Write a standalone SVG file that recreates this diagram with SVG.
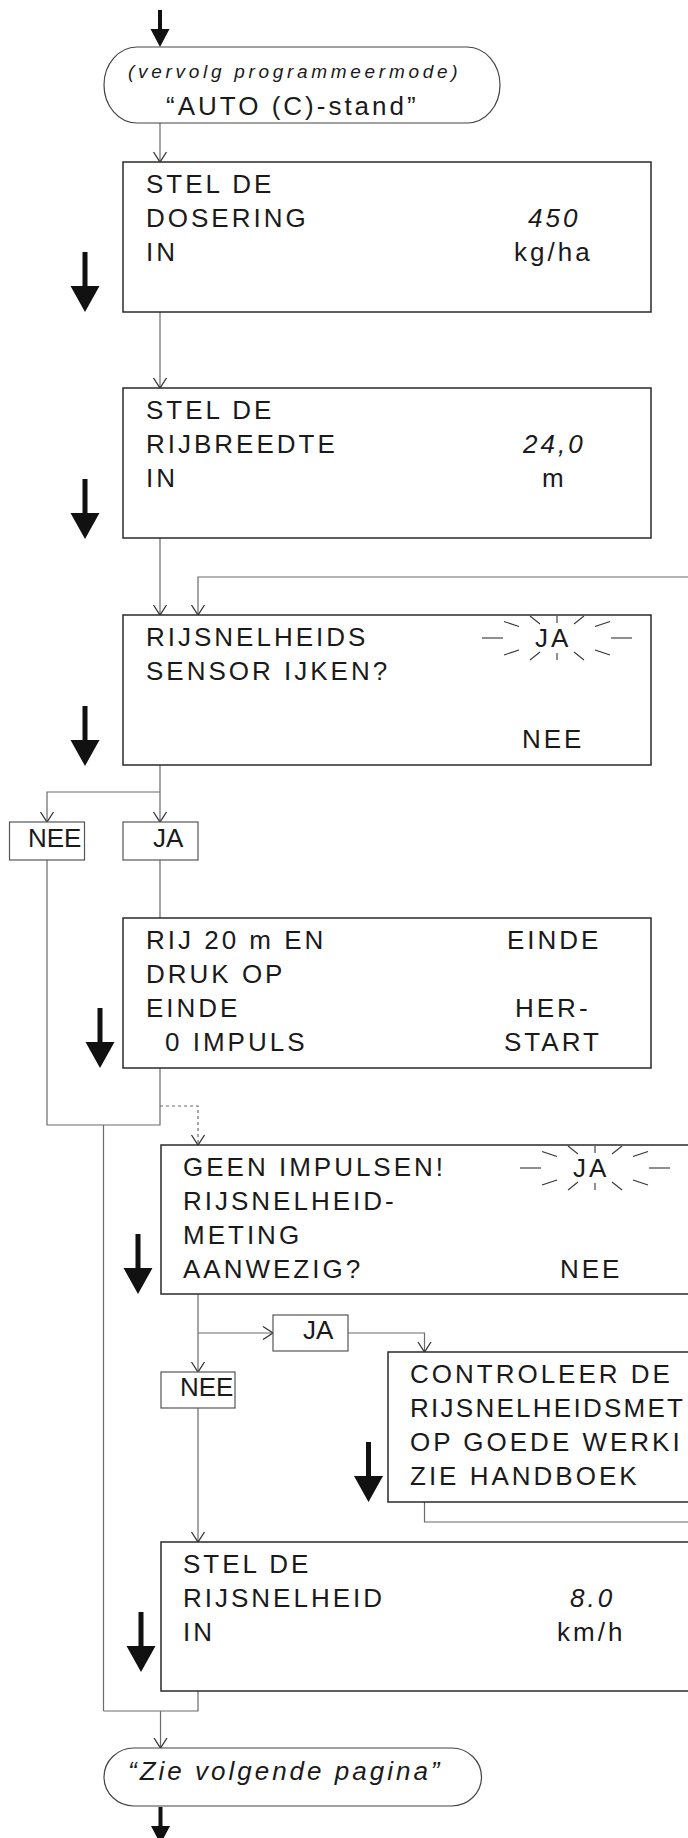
<svg xmlns="http://www.w3.org/2000/svg" xmlns:xlink="http://www.w3.org/1999/xlink" width="688" height="1838" viewBox="0 0 688 1838">
<style>
.t{font-family:"Liberation Sans",Arial,Helvetica,sans-serif;font-size:26px;letter-spacing:3px;fill:#1a1a1a}
.it{font-style:italic}
.small{font-size:19px;letter-spacing:3.7px}
.lbl{letter-spacing:0}
.box{fill:#fff;stroke:#2a2a2a;stroke-width:1.5}
.sbox{fill:#fff;stroke:#555;stroke-width:1.2}
.term{fill:#fff;stroke:#444;stroke-width:1.2}
.con{fill:none;stroke:#6a6a6a;stroke-width:1.2}
.dash{stroke-dasharray:3 3}
.ah{fill:none;stroke:#333;stroke-width:1.3}
.ray{stroke:#333;stroke-width:1.1}
.big{fill:#111}
</style>
<defs>
<marker id="arr" markerUnits="userSpaceOnUse" viewBox="-12 -8 14 16" markerWidth="14" markerHeight="16" refX="0" refY="0" orient="auto" overflow="visible">
<path class="ah" d="M-10,-6.5 L0,0 L-10,6.5"/>
</marker>
<path id="bigArr" class="big" d="M-2.5,-60 H2.5 V-26 H14.5 L0,0 L-14.5,-26 H-2.5 Z"/>
<path id="smArr" class="big" d="M-2,-37 H2 V-18 H9.5 L0,0 L-9.5,-18 H-2 Z"/>
<g id="burst" class="ray">
<line x1="-75" y1="0" x2="-54" y2="0"/><line x1="54" y1="0" x2="75" y2="0"/>
<line x1="-53" y1="-16.5" x2="-38" y2="-11.5"/><line x1="38" y1="-11.5" x2="53" y2="-16.5"/>
<line x1="-53" y1="17" x2="-38" y2="12"/><line x1="38" y1="12" x2="53" y2="17"/>
<line x1="-27" y1="-22" x2="-17" y2="-14"/><line x1="17" y1="-14" x2="27" y2="-22"/>
<line x1="-27" y1="22" x2="-17" y2="14"/><line x1="17" y1="14" x2="27" y2="22"/>
<line x1="0" y1="-22" x2="0" y2="-15"/><line x1="0" y1="15" x2="0" y2="22"/>
</g>
<clipPath id="page"><rect x="0" y="0" width="688" height="1838"/></clipPath>
</defs>

<g id="connectors">
<path class="con" d="M160,123 V162" marker-end="url(#arr)"/>
<path class="con" d="M160,312 V388" marker-end="url(#arr)"/>
<path class="con" d="M160,538 V615" marker-end="url(#arr)"/>
<path class="con" d="M700,577 H198 V615" marker-end="url(#arr)"/>
<path class="con" d="M160,765 V822" marker-end="url(#arr)"/>
<path class="con" d="M160,792 H47 V822" marker-end="url(#arr)"/>
<path class="con" d="M160,860 V918"/>
<path class="con" d="M47,860 V1125 H160 V1068"/>
<path class="con dash" d="M160,1106 H198 V1145" marker-end="url(#arr)"/>
<path class="con" d="M103.5,1125 V1711"/>
<path class="con" d="M198,1294 V1372" marker-end="url(#arr)"/>
<path class="con" d="M198,1333 H273" marker-end="url(#arr)"/>
<path class="con" d="M348,1333 H424.5 V1352" marker-end="url(#arr)"/>
<path class="con" d="M424.5,1502 V1522 H700"/>
<path class="con" d="M198,1408 V1542" marker-end="url(#arr)"/>
<path class="con" d="M103.5,1711 H198 V1691"/>
<path class="con" d="M160.5,1711 V1748" marker-end="url(#arr)"/>
</g>

<g id="start">
<use xlink:href="#smArr" x="160" y="47"/>
<rect class="term" x="104" y="47" width="396" height="76" rx="33" ry="38"/>
<text class="t it small" x="128" y="78">(vervolg programmeermode)</text>
<text class="t" x="166" y="115">“AUTO (C)-stand”</text>
</g>

<g id="dosering">
<rect class="box" x="123" y="162" width="528" height="150"/>
<text class="t" x="146" y="193">STEL DE</text>
<text class="t" x="146" y="227">DOSERING</text>
<text class="t" x="146" y="261">IN</text>
<text class="t it" x="528" y="227">450</text>
<text class="t" x="514" y="261">kg/ha</text>
<use xlink:href="#bigArr" x="85" y="312"/>
</g>

<g id="rijbreedte">
<rect class="box" x="123" y="388" width="528" height="150"/>
<text class="t" x="146" y="419">STEL DE</text>
<text class="t" x="146" y="453">RIJBREEDTE</text>
<text class="t" x="146" y="487">IN</text>
<text class="t it" x="523" y="453">24,0</text>
<text class="t" x="542" y="487">m</text>
<use xlink:href="#bigArr" x="85" y="539"/>
</g>

<g id="sensor-ijken">
<rect class="box" x="123" y="615" width="528" height="150"/>
<text class="t" x="146" y="646">RIJSNELHEIDS</text>
<text class="t" x="146" y="680">SENSOR IJKEN?</text>
<use xlink:href="#burst" x="557" y="638"/>
<text class="t" x="535" y="647">JA</text>
<text class="t" x="522" y="748">NEE</text>
<use xlink:href="#bigArr" x="85" y="766"/>
</g>

<g id="nee1">
<rect class="sbox" x="9.5" y="822" width="75" height="38"/>
<text class="t lbl" x="28" y="847">NEE</text>
</g>
<g id="ja1">
<rect class="sbox" x="123" y="822" width="75" height="38"/>
<text class="t lbl" x="153" y="847">JA</text>
</g>

<g id="rij20m">
<rect class="box" x="123" y="918" width="528" height="150"/>
<text class="t" x="146" y="949">RIJ 20 m EN</text>
<text class="t" x="146" y="983">DRUK OP</text>
<text class="t" x="146" y="1017">EINDE</text>
<text class="t" x="165" y="1051">0 IMPULS</text>
<text class="t" x="507" y="949">EINDE</text>
<text class="t" x="515" y="1017">HER-</text>
<text class="t" x="504" y="1051">START</text>
<use xlink:href="#bigArr" x="100" y="1068"/>
</g>

<g id="geen-impulsen" clip-path="url(#page)">
<rect class="box" x="161" y="1145" width="530" height="149"/>
<text class="t" x="183" y="1176">GEEN IMPULSEN!</text>
<text class="t" x="183" y="1210">RIJSNELHEID-</text>
<text class="t" x="183" y="1244">METING</text>
<text class="t" x="183" y="1278">AANWEZIG?</text>
<use xlink:href="#burst" x="595" y="1168"/>
<text class="t" x="573" y="1177">JA</text>
<text class="t" x="560" y="1278">NEE</text>
<use xlink:href="#bigArr" x="138" y="1294"/>
</g>

<g id="ja2">
<rect class="sbox" x="273" y="1315" width="75" height="36"/>
<text class="t lbl" x="303" y="1339">JA</text>
</g>
<g id="nee2">
<rect class="sbox" x="161" y="1372" width="74" height="36"/>
<text class="t lbl" x="180" y="1396">NEE</text>
</g>

<g id="controleer" clip-path="url(#page)">
<rect class="box" x="388" y="1352" width="303" height="150"/>
<text class="t" x="410" y="1383">CONTROLEER DE</text>
<text class="t" x="410" y="1417" textLength="276" lengthAdjust="spacing">RIJSNELHEIDSMET</text>
<text class="t" x="410" y="1451">OP GOEDE WERKI</text>
<text class="t" x="410" y="1485">ZIE HANDBOEK</text>
<use xlink:href="#bigArr" x="368.5" y="1502"/>
</g>

<g id="rijsnelheid" clip-path="url(#page)">
<rect class="box" x="161" y="1542" width="530" height="149"/>
<text class="t" x="183" y="1573">STEL DE</text>
<text class="t" x="183" y="1607">RIJSNELHEID</text>
<text class="t" x="183" y="1641">IN</text>
<text class="t it" x="570" y="1607">8.0</text>
<text class="t" x="557" y="1641">km/h</text>
<use xlink:href="#bigArr" x="141" y="1672"/>
</g>

<g id="end">
<rect class="term" x="104" y="1748" width="377.5" height="58" rx="30" ry="29"/>
<text class="t it" x="128" y="1780">“Zie volgende pagina”</text>
<use xlink:href="#smArr" x="160.5" y="1844"/>
</g>
</svg>
